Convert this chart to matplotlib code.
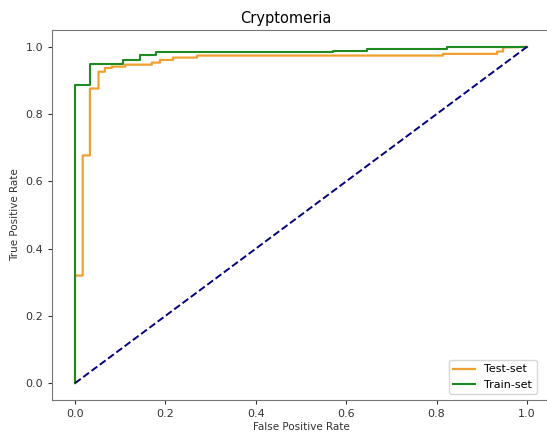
import numpy as np
import matplotlib
matplotlib.use('Agg')
import matplotlib.pyplot as plt

# ROC points
fpr_test = [0.0, 0.0, 0.017, 0.017, 0.033, 0.033, 0.052, 0.052, 0.066, 0.066, 0.081, 0.081,
            0.111, 0.111, 0.170, 0.170, 0.188, 0.188, 0.217, 0.217, 0.270, 0.270,
            0.814, 0.814, 0.934, 0.934, 0.947, 0.947, 1.0]
tpr_test = [0.0, 0.320, 0.320, 0.677, 0.677, 0.876, 0.876, 0.926, 0.926, 0.937, 0.937, 0.941,
            0.941, 0.947, 0.947, 0.953, 0.953, 0.961, 0.961, 0.968, 0.968, 0.974,
            0.974, 0.979, 0.979, 0.986, 0.986, 0.998, 1.0]

fpr_train = [0.0, 0.0, 0.033, 0.033, 0.107, 0.107, 0.144, 0.144, 0.179, 0.179,
             0.571, 0.571, 0.646, 0.646, 0.823, 0.823, 1.0]
tpr_train = [0.0, 0.886, 0.886, 0.950, 0.950, 0.960, 0.960, 0.975, 0.975, 0.984,
             0.984, 0.989, 0.989, 0.994, 0.994, 1.0, 1.0]

fig = plt.figure(figsize=(5.47, 4.32), dpi=100)
ax = fig.add_axes([52.4/547, (432-400)/432, 497.2/547, 370/432])

ax.plot(fpr_test, tpr_test, color='#f0a030', lw=1.6, label='Test-set')
ax.plot(fpr_train, tpr_train, color='#1f8a1f', lw=1.5, label='Train-set')
ax.plot([0, 1], [0, 1], color='navy', lw=1.4, linestyle='--')

ax.set_xlabel('False Positive Rate', fontsize=7.5, labelpad=2, color='#333333')
ax.set_ylabel('True Positive Rate', fontsize=7.5, labelpad=4, color='#333333')
ax.set_title('Cryptomeria', fontsize=10.5, x=0.47, pad=5)
ax.tick_params(labelsize=8, colors='#333333', length=3)
for s in ax.spines.values():
    s.set_color('#777777')
ax.legend(loc='lower right', fontsize=8, bbox_to_anchor=(0.985, 0.0))

plt.savefig('out.png', dpi=100)
